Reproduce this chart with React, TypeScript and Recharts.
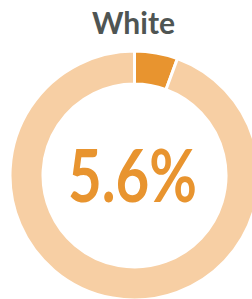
import { PieChart, Pie, Cell } from "recharts";

const TITLE = "White";
const SHARE = [5.6];
const REST = [94.4];
const COLORS = ["#e8942f", "#f7cfa4"];

const CX = 134.5;
const CY = 175.5;

const data = [
  { name: TITLE, value: SHARE[0] },
  { name: "Other", value: REST[0] },
];

export default function App() {
  return (
    <div
      style={{
        position: "absolute",
        left: 0,
        top: 0,
        width: 252,
        height: 299,
        background: "#fff",
        overflow: "hidden",
      }}
    >
      <div
        style={{
          position: "absolute",
          left: 0,
          top: 4,
          width: 267,
          textAlign: "center",
          fontFamily: "Lato, sans-serif",
          fontWeight: 700,
          fontSize: 30,
          lineHeight: "36px",
          color: "#4f5553",
        }}
      >
        {TITLE}
      </div>
      <PieChart
        width={320}
        height={360}
        margin={{ top: 0, right: 0, bottom: 0, left: 0 }}
        style={{ position: "absolute", left: 0, top: 0 }}
      >
        <Pie
          data={data}
          dataKey="value"
          cx={CX}
          cy={CY}
          innerRadius={91.5}
          outerRadius={124.5}
          startAngle={90}
          endAngle={-270}
          stroke="#fff"
          strokeWidth={3}
          isAnimationActive={false}
        >
          {data.map((d, i) => (
            <Cell key={d.name} fill={COLORS[i]} />
          ))}
        </Pie>
      </PieChart>
      <svg width={252} height={299} style={{ position: "absolute", left: 0, top: 0 }}>
        <text
          x={CX - 2}
          y={CY + 26}
          textAnchor="middle"
          fill="#e8942f"
          fontFamily="Lato, sans-serif"
          fontWeight={700}
          fontSize={72}
          textLength={129}
          lengthAdjust="spacingAndGlyphs"
        >
          {`${SHARE[0]}%`}
        </text>
      </svg>
    </div>
  );
}
